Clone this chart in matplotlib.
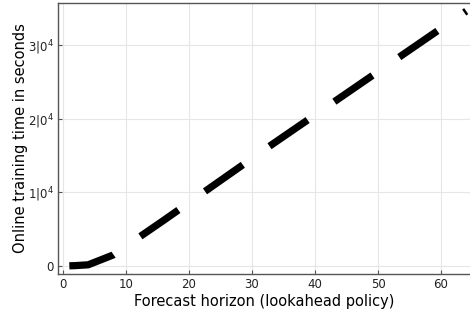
import numpy as np
import matplotlib.pyplot as plt

horizon = [1, 2, 4, 8, 16, 32, 64]
train_time = [10, 40, 150, 1500, 6200, 15800, 34600]

xticks = [0, 10, 20, 30, 40, 50, 60]
yticks = [0, 10000, 20000, 30000]
ytick_labels = ['0', r'1|0$^4$', r'2|0$^4$', r'3|0$^4$']

fig = plt.figure(figsize=(4.7, 3.2), dpi=100)
ax = fig.add_axes([58 / 470, 46 / 320, 412 / 470, 271 / 320])

line, = ax.plot(horizon, train_time, color='k', linewidth=5.2,
                linestyle=(0, (6.4, 4.5)), dash_capstyle='butt')

ax.set_xlim(-0.8, 64.6)
ax.set_ylim(-1100, 35700)
ax.set_xticks(xticks)
ax.set_yticks(yticks)
ax.set_yticklabels(ytick_labels)
ax.grid(True, color='#e6e6e6', linewidth=0.8)
ax.set_axisbelow(True)

for s in ['left', 'bottom', 'top']:
    ax.spines[s].set_color('#555555')
    ax.spines[s].set_linewidth(1.0)
ax.spines['right'].set_visible(False)
ax.tick_params(direction='in', length=3, width=0.8, color='#555555',
               labelsize=8.5, labelcolor='#222222', pad=3)

ax.set_xlabel('Forecast horizon (lookahead policy)', fontsize=10.5, labelpad=2)
ax.set_ylabel('Online training time in seconds', fontsize=10.5, labelpad=0)

fig.savefig('out.png', dpi=100)
plt.close()
